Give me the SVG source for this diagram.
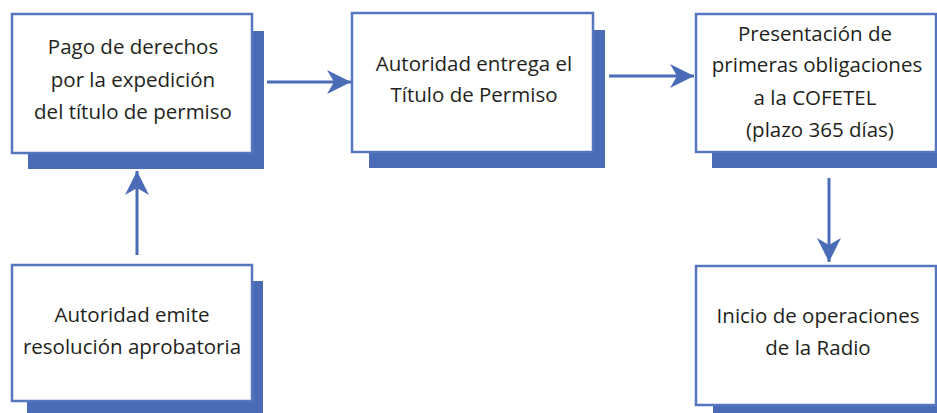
<svg xmlns="http://www.w3.org/2000/svg" width="937" height="413" viewBox="0 0 937 413">
<style>
.shadow{fill:#4a6bb5}
.box{fill:#ffffff;stroke:#5676bf;stroke-width:2.5}
.t{font-family:"Open Sans",Lato,"DejaVu Sans",sans-serif;font-size:20.5px;fill:#231f20;text-anchor:middle}
.c{stroke:#4a6bb5;stroke-width:3;fill:none}
</style>
<defs>
<marker id="ah" viewBox="-24 -13 25 26" refX="0" refY="0" markerWidth="25" markerHeight="26" markerUnits="userSpaceOnUse" orient="auto">
<path d="M0,0 L-24,-12 L-17,0 L-24,12 Z" fill="#4a6bb5"/>
</marker>
</defs>
<g id="n1">
<rect class="shadow" x="28" y="31" width="236" height="138"/>
<rect class="box" x="12" y="14" width="240" height="139"/>
<text class="t" x="133" y="54">Pago de derechos</text>
<text class="t" x="133" y="87">por la expedición</text>
<text class="t" x="133" y="119">del título de permiso</text>
</g>
<g id="n2">
<rect class="shadow" x="369" y="30" width="236" height="138"/>
<rect class="box" x="352" y="13" width="241" height="139"/>
<text class="t" x="474" y="71">Autoridad entrega el</text>
<text class="t" x="474" y="102">Título de Permiso</text>
</g>
<g id="n3">
<rect class="shadow" x="712" y="30" width="230" height="138"/>
<rect class="box" x="696" y="14" width="240" height="138"/>
<text class="t" x="815" y="41">Presentación de</text>
<text class="t" x="817" y="72">primeras obligaciones</text>
<text class="t" x="815" y="105">a la COFETEL</text>
<text class="t" x="820" y="137">(plazo 365 días)</text>
</g>
<g id="n4">
<rect class="shadow" x="27" y="281" width="236" height="135"/>
<rect class="box" x="12" y="265" width="240" height="136"/>
<text class="t" x="132" y="322">Autoridad emite</text>
<text class="t" x="132" y="354">resolución aprobatoria</text>
</g>
<g id="n5">
<rect class="shadow" x="713" y="282" width="230" height="135"/>
<rect class="box" x="696" y="266" width="240" height="139"/>
<text class="t" x="818" y="323">Inicio de operaciones</text>
<text class="t" x="818" y="355">de la Radio</text>
</g>
<g id="connectors">
<line class="c" x1="267" y1="82" x2="351" y2="82" marker-end="url(#ah)"/>
<line class="c" x1="609" y1="76" x2="694" y2="76" marker-end="url(#ah)"/>
<line class="c" x1="829" y1="178" x2="829" y2="262" marker-end="url(#ah)"/>
<line class="c" x1="137" y1="255" x2="137" y2="171" marker-end="url(#ah)"/>
</g>
</svg>
